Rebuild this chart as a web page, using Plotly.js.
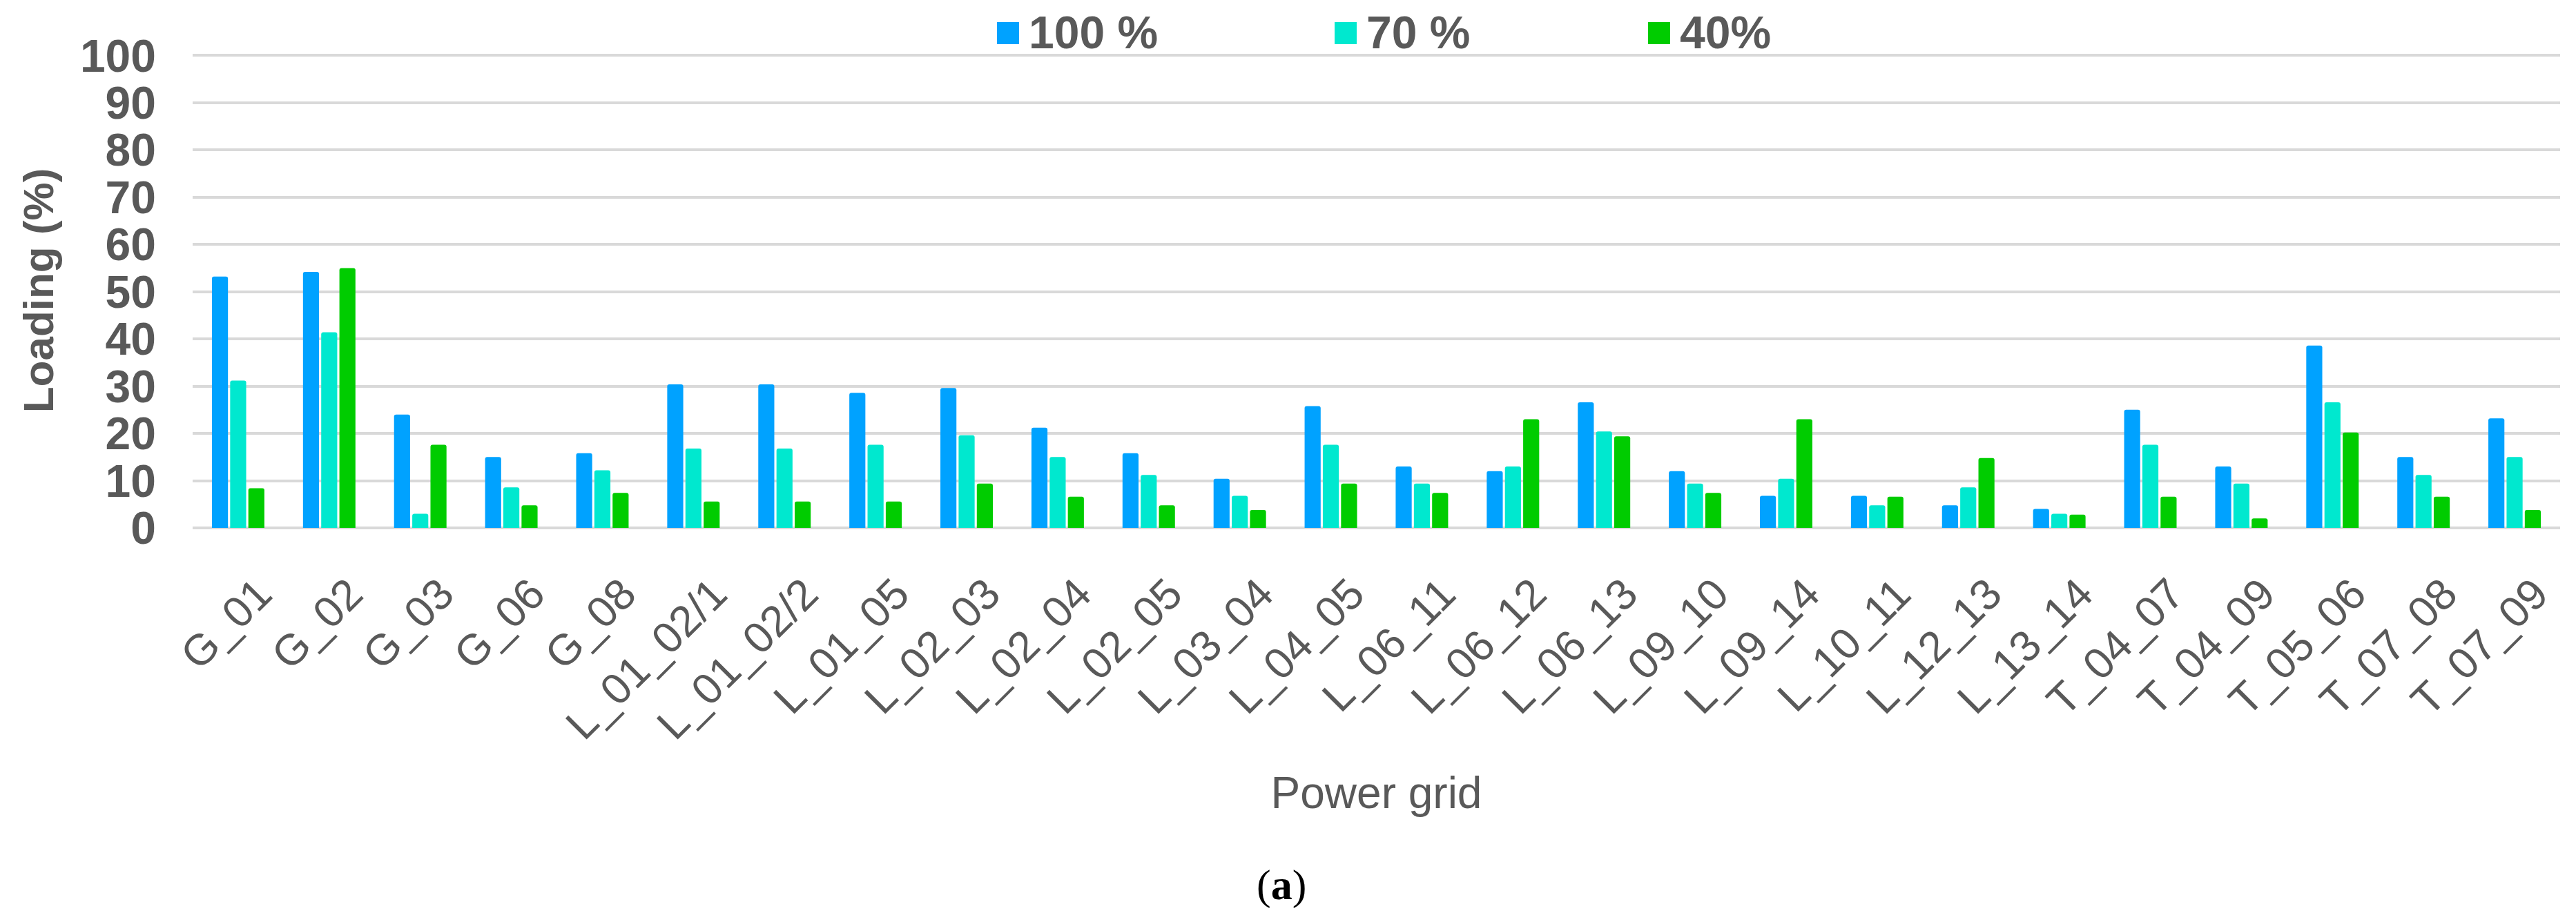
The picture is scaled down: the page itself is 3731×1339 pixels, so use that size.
<!DOCTYPE html>
<html>
<head>
<meta charset="utf-8">
<script src="https://cdn.plot.ly/plotly-3.0.1.min.js"></script>
<style>
  html, body { margin: 0; padding: 0; background: #ffffff; }
  #chart { width: 3731px; height: 1339px; }
</style>
</head>
<body>
<div id="chart"></div>
<script>
// ---- Data ----
const categories = ["G_01", "G_02", "G_03", "G_06", "G_08", "L_01_02/1", "L_01_02/2", "L_01_05",
  "L_02_03", "L_02_04", "L_02_05", "L_03_04", "L_04_05", "L_06_11", "L_06_12", "L_06_13",
  "L_09_10", "L_09_14", "L_10_11", "L_12_13", "L_13_14", "T_04_07", "T_04_09", "T_05_06",
  "T_07_08", "T_07_09"];

const seriesNames = ["100 %", "70 %", "40%"];

const load100 = [53.2, 54.2, 24.0, 15.0, 15.8, 30.4, 30.4, 28.6,
  29.6, 21.2, 15.8, 10.4, 25.8, 13.0, 12.0, 26.6,
  12.0, 6.8, 6.8, 4.8, 4.0, 25.0, 13.0, 38.6,
  15.0, 23.2];

const load70 = [31.2, 41.4, 3.0, 8.6, 12.2, 16.8, 16.8, 17.6,
  19.6, 15.0, 11.2, 6.8, 17.6, 9.4, 13.0, 20.4,
  9.4, 10.4, 4.8, 8.6, 3.0, 17.6, 9.4, 26.6,
  11.2, 15.0];

const load40 = [8.4, 55.0, 17.6, 4.8, 7.4, 5.6, 5.6, 5.6,
  9.4, 6.6, 4.8, 3.8, 9.4, 7.4, 23.0, 19.4,
  7.4, 23.0, 6.6, 14.8, 2.8, 6.6, 2.0, 20.2,
  6.6, 3.8];

const seriesColors = ["#00A2FF", "#00E8CF", "#00CC00"];
const seriesValues = [load100, load70, load40];

// ---- Traces ----
const traces = seriesValues.map((vals, i) => ({
  type: "bar",
  name: seriesNames[i],
  x: categories,
  y: vals,
  marker: { color: seriesColors[i], cornerradius: 3 },
  showlegend: false,
  hoverinfo: "x+y+name"
}));

// ---- Plot geometry (pixels) ----
const W = 3731, H = 1339;
const mL = 279, mR = 23, mT = 77, mB = 574;
const plotW = W - mL - mR, plotH = H - mT - mB;
const px2x = p => (p - mL) / plotW;
const px2y = p => (H - mB - p) / plotH;

const FONT = "Arial, 'Liberation Sans', sans-serif";

// custom legend (large square swatches like the original)
const legendSquaresLeft = [1444, 1933, 2387];
const sq = 32, sqTop = 32;
const shapes = [];
const annotations = [];
seriesNames.forEach((nm, i) => {
  const x0 = legendSquaresLeft[i];
  shapes.push({
    type: "rect", xref: "paper", yref: "paper",
    x0: px2x(x0), x1: px2x(x0 + sq), y0: px2y(sqTop + sq), y1: px2y(sqTop),
    fillcolor: seriesColors[i], line: { width: 0 }, layer: "above"
  });
  annotations.push({
    xref: "paper", yref: "paper",
    x: px2x(x0 + sq + 12), y: px2y(47),
    xanchor: "left", yanchor: "middle",
    text: "<b>" + nm + "</b>", showarrow: false,
    font: { family: FONT, size: 66, color: "#595959" }
  });
});

annotations.push({
  xref: "paper", yref: "paper",
  x: px2x(1856), y: px2y(1282),
  xanchor: "center", yanchor: "middle",
  text: "(<b>a</b>)", showarrow: false,
  font: { family: "'Liberation Serif', 'Times New Roman', serif", size: 62, color: "#000000" }
});

const layout = {
  width: W, height: H,
  margin: { l: mL, r: mR, t: mT, b: mB, pad: 0 },
  paper_bgcolor: "#ffffff",
  plot_bgcolor: "#ffffff",
  font: { family: FONT, color: "#595959" },
  barmode: "group",
  bargap: 0.4,
  bargroupgap: 0.12,
  showlegend: false,
  xaxis: {
    type: "category",
    tickangle: -45,
    tickfont: { size: 63, color: "#595959" },
    showgrid: false,
    showline: false,
    zeroline: false,
    ticks: "",
    ticklabelstandoff: 45,
    ticklabelshift: 30,
    automargin: false,
    title: { text: "Power grid", font: { size: 64, color: "#595959" }, standoff: 42 }
  },
  yaxis: {
    range: [0, 100.5],
    dtick: 10,
    tick0: 0,
    tickfont: { size: 66, color: "#595959", weight: "bold" },
    showgrid: true,
    gridcolor: "#d9d9d9",
    gridwidth: 4,
    zeroline: true,
    zerolinecolor: "#d9d9d9",
    zerolinewidth: 4,
    showline: false,
    ticks: "",
    ticklabelstandoff: 52,
    automargin: false,
    title: { text: "<b>Loading (%)</b>", font: { size: 62, color: "#595959" }, standoff: 18 }
  },
  shapes: shapes,
  annotations: annotations
};

Plotly.newPlot("chart", traces, layout, { displayModeBar: false, staticPlot: true });
</script>
</body>
</html>
